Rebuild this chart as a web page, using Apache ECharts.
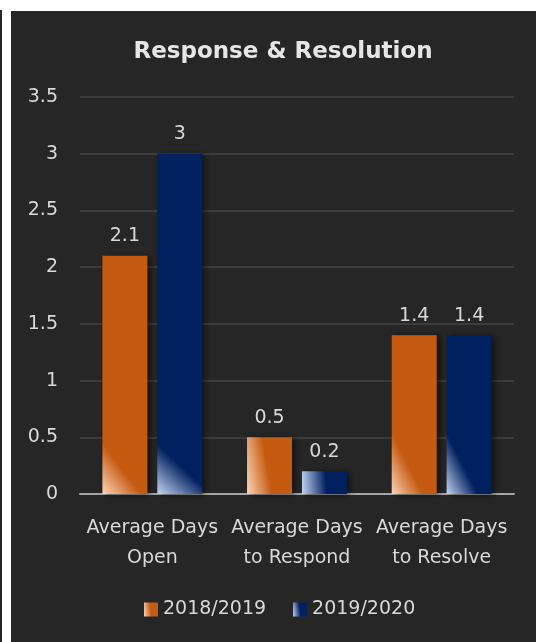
<!DOCTYPE html>
<html>
<head>
<meta charset="UTF-8">
<title>Response & Resolution</title>
<style type="text/css">
	html, body {
		margin: 0;
		padding: 0;
		background: #ffffff;
		width: 536px;
		height: 642px;
		overflow: hidden;
	}
	.edge {
		position: absolute;
		left: 0;
		top: 10px;
		width: 2px;
		height: 632px;
		background: #262626;
	}
	#main {
		position: absolute;
		left: 11px;
		top: 11px;
		width: 525px;
		height: 631px;
		background: #262626;
	}
</style>
</head>
<body>
<div class="edge"></div>
<div id="main"></div>
<script src="https://cdn.jsdelivr.net/npm/echarts@6/dist/echarts.min.js"></script>
<script type="text/javascript">
	// categories and values
	var categories = ['Average Days\nOpen', 'Average Days\nto Respond', 'Average Days\nto Resolve'];
	var seriesNames = ['2018/2019', '2019/2020'];
	var values2018 = [2.1, 0.5, 1.4];
	var values2019 = [3, 0.2, 1.4];
	var yTicks = [0, 0.5, 1, 1.5, 2, 2.5, 3, 3.5];

	var textColor = '#d9d9d9';
	var font = 'DejaVu Sans';

	// bottom-left highlight like the office gradient fill
	function fill(light, base) {
		return new echarts.graphic.LinearGradient(0, 1, 0.55, 0.92, [{
			offset: 0,
			color: light
		}, {
			offset: 1,
			color: base
		}]);
	}

	function barSeries(name, data, light, base) {
		return {
			name: name,
			type: 'bar',
			data: data,
			barWidth: 45,
			barGap: '22%',
			itemStyle: {
				color: fill(light, base),
				shadowColor: 'rgba(0,0,0,0.55)',
				shadowBlur: 6,
				shadowOffsetX: 3,
				shadowOffsetY: 1
			},
			label: {
				show: true,
				position: 'top',
				distance: 10,
				color: textColor,
				fontFamily: font,
				fontSize: 19
			}
		};
	}

	var myChart = echarts.init(document.getElementById('main'));
	var option = {
		backgroundColor: '#262626',
		animation: false,
		title: {
			text: 'Response & Resolution',
			left: 267,
			textAlign: 'center',
			top: 25,
			textStyle: {
				color: '#e6e6e6',
				fontFamily: font,
				fontWeight: 'bold',
				fontSize: 23
			}
		},
		legend: {
			data: seriesNames,
			left: 128,
			top: 584,
			icon: 'rect',
			itemWidth: 14,
			itemHeight: 14,
			itemGap: 27,
			textStyle: {
				color: textColor,
				fontFamily: font,
				fontSize: 19
			}
		},
		grid: {
			left: 69,
			right: 22,
			top: 86,
			bottom: 148
		},
		xAxis: {
			type: 'category',
			data: categories,
			axisTick: { show: false },
			axisLine: {
				lineStyle: { color: '#a6a6a6', width: 2 }
			},
			axisLabel: {
				color: textColor,
				fontFamily: font,
				fontSize: 19,
				lineHeight: 30,
				margin: 19,
				interval: 0
			}
		},
		yAxis: {
			type: 'value',
			min: yTicks[0],
			max: yTicks[yTicks.length - 1],
			interval: 0.5,
			axisLine: { show: false },
			axisTick: { show: false },
			axisLabel: {
				color: textColor,
				fontFamily: font,
				fontSize: 19,
				margin: 22
			},
			splitLine: {
				lineStyle: { color: '#3c3c3c', width: 2 }
			}
		},
		series: [
			barSeries(seriesNames[0], values2018, '#fbd5b8', '#c55a11'),
			barSeries(seriesNames[1], values2019, '#c4d5f2', '#002060')
		]
	};
	myChart.setOption(option);
</script>
</body>
</html>
